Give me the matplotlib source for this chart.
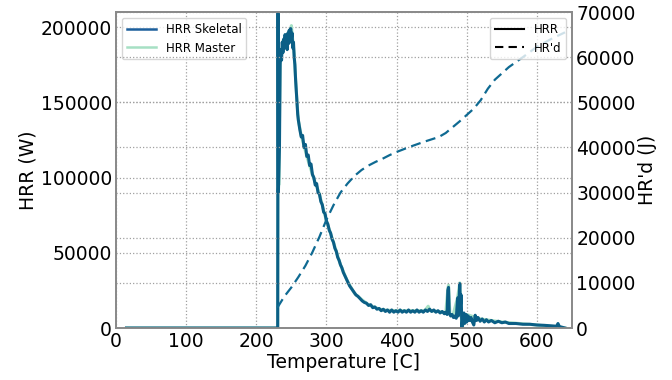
import matplotlib
matplotlib.use("Agg")
import matplotlib.pyplot as plt
from matplotlib.lines import Line2D

# HRR, skeletal mechanism (W) vs temperature (C)
temp_skel = [15, 229, 230.5, 231, 231.5, 233, 234, 235, 236, 237, 238, 239, 240, 241, 242,
             243, 244, 245, 246, 247, 248, 249, 250, 251, 252, 253, 254, 255, 256, 257,
             258, 259, 260, 262, 264, 266, 268, 270, 272, 274, 276, 278, 280, 282, 284,
             286, 288, 290, 292, 294, 296, 298, 300, 302, 304, 306, 308, 310, 312, 314,
             316, 318, 320, 322, 324, 326, 328, 330, 333, 336, 339, 342, 345, 348, 351,
             354, 357, 360, 363, 366, 369, 372, 375, 378, 381, 384, 387, 390, 393, 396,
             399, 402, 405, 408, 411, 414, 417, 420, 423, 426, 429, 432, 435, 438, 441,
             444, 447, 450, 453, 456, 459, 462, 465, 468, 470, 472, 473, 474, 475, 477,
             479, 481, 483, 485, 487, 488, 490, 491, 492, 493, 494, 496, 497, 499, 500,
             502, 504, 506, 508, 510, 512, 514, 516, 519, 522, 525, 528, 531, 535, 540,
             545, 550, 555, 560, 570, 580, 590, 600, 610, 620, 628, 630, 632, 640]
hrr_skel = [0, 0, 0, 215000, 90000, 120000, 175000, 185000, 178000, 190000, 183000, 192000,
            186000, 195000, 188000, 193000, 185000, 196000, 189000, 198000, 190000, 199000,
            192000, 196000, 186000, 190000, 180000, 175000, 165000, 158000, 150000, 142000,
            138000, 132000, 127000, 128000, 120000, 122000, 114000, 115000, 108000, 109000,
            102000, 100000, 95000, 96000, 90000, 89000, 84000, 82000, 77000, 76000, 71000,
            69000, 65000, 63000, 59000, 57000, 53000, 51000, 47000, 45000, 42000, 40000,
            37000, 35000, 33000, 31000, 28000, 26000, 24000, 22000, 21000, 19500, 18000,
            17000, 16500, 15000, 15500, 13500, 14000, 12500, 13000, 11500, 12500, 11000,
            12000, 10500, 12000, 10500, 11500, 10500, 12000, 10500, 11500, 10500, 12000,
            10500, 11500, 10500, 12000, 10500, 11500, 10500, 12000, 11000, 12500, 11000,
            12000, 10500, 11500, 10000, 11000, 9500, 10500, 9000, 25000, 27000, 10000, 8000,
            9000, 7000, 8000, 6500, 20000, 8000, 29500, 15000, 22000, 0, 5000, 10000, 3000,
            9000, 4000, 8000, 5000, 7000, 4000, 2000, 8500, 5000, 7000, 4500, 6000, 4000,
            5500, 4000, 5000, 3500, 4500, 3500, 4000, 3000, 3000, 2500, 2500, 2000, 1800,
            1500, 1200, 3000, 1000, 0]

# HRR, master mechanism (W)
temp_master = [15, 229, 230.5, 231, 232, 234, 236, 238, 240, 242, 244, 246, 248, 250, 252,
               254, 256, 258, 260, 264, 268, 272, 276, 280, 290, 300, 310, 320, 330, 340,
               350, 360, 370, 380, 400, 420, 440, 445, 448, 460, 470, 473, 474, 476, 480,
               487, 490, 493, 500, 520, 550, 600, 640]
hrr_master = [0, 0, 0, 210000, 95000, 178000, 182000, 191000, 188000, 195000, 190000,
              197000, 193000, 201000, 191000, 182000, 166000, 150000, 138000, 128000,
              121000, 114000, 108000, 102000, 89000, 71000, 57000, 42000, 31000, 23000,
              19000, 15500, 13500, 12000, 11500, 11500, 11500, 14500, 11500, 11000, 10000,
              26000, 28500, 9500, 8000, 20500, 30000, 0, 9000, 6000, 4000, 2000, 0]

# Heat released (J)
temp_hrd = [230, 240, 250, 260, 270, 280, 290, 300, 310, 320, 330, 340, 350, 360, 370, 380,
            390, 400, 420, 440, 460, 470, 480, 490, 500, 510, 520, 530, 540, 560, 580, 600,
            620, 640]
hrd = [4500, 7000, 9000, 11300, 13800, 16800, 20200, 24000, 27200, 30000, 32000, 33700,
       35000, 36000, 36800, 37500, 38300, 39000, 40200, 41300, 42300, 43200, 44500, 45800,
       47200, 48600, 50500, 53000, 55000, 57800, 60000, 62300, 64000, 65500]

c_skel = "#0b5f86"
c_master = "#a6e0c4"
c_hrd = "#0f6a92"
grid_kw = dict(color="#a0a0a0", linestyle=":", linewidth=0.9)

fig = plt.figure(figsize=(6.72, 3.80), dpi=100)
ax1 = fig.add_axes([0.1726, 0.1368, 0.6786, 0.8316])
ax2 = ax1.twinx()

ax1.plot(temp_master, hrr_master, color=c_master, lw=2.2, label="HRR Master", zorder=2)
ax1.plot(temp_skel, hrr_skel, color=c_skel, lw=2.2, label="HRR Skeletal", zorder=3)
ax2.plot(temp_hrd, hrd, color=c_hrd, lw=1.6, linestyle=(0, (4.5, 2.5)))

ax1.set_xlim(0, 650)
ax1.set_ylim(0, 210000)
ax2.set_ylim(0, 70000)
ax1.set_xticks(range(0, 601, 100))
ax1.set_yticks(range(0, 200001, 50000))
ax2.set_yticks(range(0, 70001, 10000))

ax1.grid(True, **grid_kw)
ax2.grid(True, **grid_kw)

for ax in (ax1, ax2):
    ax.tick_params(length=0, labelsize=13.5, pad=3)
    for s in ax.spines.values():
        s.set_color("#8a8a8a")
        s.set_linewidth(1.3)

ax1.set_xlabel("Temperature [C]", fontsize=13.5, labelpad=1)
ax1.set_ylabel("HRR (W)", fontsize=13.5, labelpad=2)
ax2.set_ylabel("HR'd (J)", fontsize=13.5, labelpad=2)

h1 = [Line2D([], [], color="#1c5f9c", lw=1.8), Line2D([], [], color=c_master, lw=1.8)]
ax1.legend(h1, ["HRR Skeletal", "HRR Master"], loc="upper left", fontsize=8.5,
           handlelength=2.5, borderaxespad=0.5)
h2 = [Line2D([], [], color="black", lw=1.5),
      Line2D([], [], color="black", lw=1.5, linestyle=(0, (4, 2.5)))]
ax2.legend(h2, ["HRR", "HR'd"], loc="upper right", fontsize=8.5,
           handlelength=2.5, borderaxespad=0.5)

fig.savefig("out.png", dpi=100)
